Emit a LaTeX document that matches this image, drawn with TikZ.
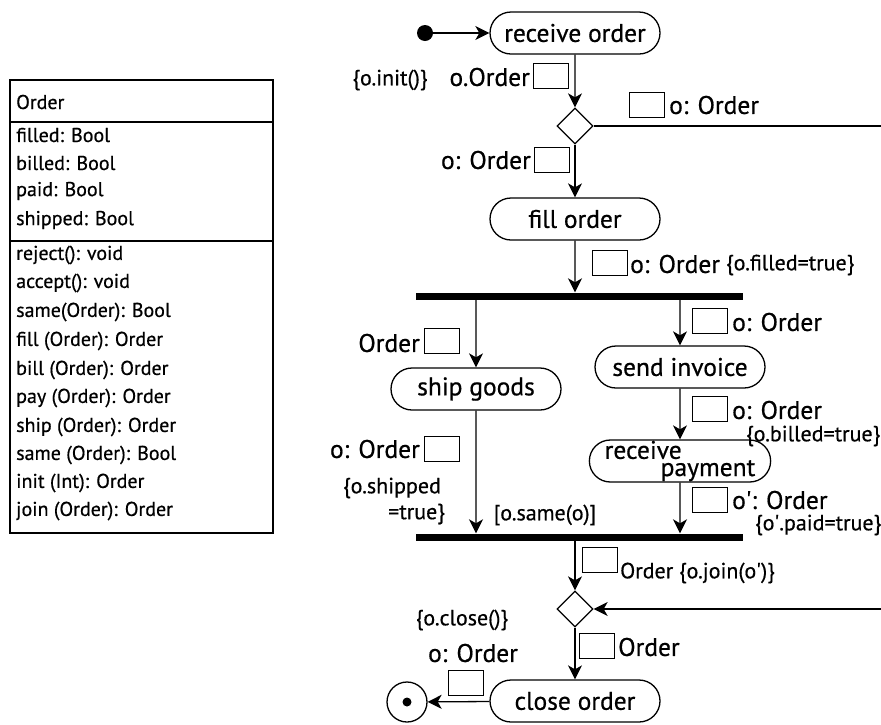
\documentclass[tikz,border=0pt]{standalone}
\usepackage{fontspec}
\setmainfont{PT Sans}[FakeBold=0.6]
\usetikzlibrary{shapes.misc,shapes.geometric,arrows.meta}
\tikzset{activity/.style={rounded rectangle, draw, line width=1.3pt, minimum width=170pt, minimum height=42pt, inner sep=0pt, font=\fontsize{25.5}{28}\selectfont}}
\tikzset{objbox/.style={rectangle, draw, line width=1.2pt, minimum width=35pt, minimum height=25pt, inner sep=0pt}}
\tikzset{decision/.style={diamond, draw, line width=1.3pt, minimum width=36pt, minimum height=36pt, inner sep=0pt}}
\tikzset{forkbar/.style={rectangle, fill=black, minimum width=327pt, minimum height=7pt, inner sep=0pt}}
\tikzset{lbl/.style={inner sep=0pt, font=\fontsize{25.5}{28}\selectfont}}
\tikzset{note/.style={inner sep=0pt, font=\fontsize{22}{24}\selectfont}}
\tikzset{member/.style={anchor=west, inner sep=0pt, font=\fontsize{20}{24}\selectfont}}
\tikzset{arrow/.style={-{Stealth[length=14pt, width=14pt, inset=4pt]}, line width=1.3pt}}
\tikzset{flow/.style={line width=1.3pt}}

\begin{document}
\begin{tikzpicture}[x=1pt, y=-1pt]
  \useasboundingbox (0,0) rectangle (881,724);

  % class Order
  \draw[line width=1.6pt] (10,80) rectangle (273,533);
  \draw[line width=1.6pt] (10,122) -- (273,122);
  \draw[line width=1.6pt] (10,241) -- (273,241);
  \node[member] (cname) at (16,102) {Order};
  \foreach \y/\m in {135/filled: Bool, 163/billed: Bool, 191/paid: Bool, 220/shipped: Bool,
      255/reject(): void, 283/accept(): void, 312/same(Order): Bool, 341/fill (Order): Order,
      370/bill (Order): Order, 398/pay (Order): Order, 427/ship (Order): Order,
      455/same (Order): Bool, 483/init (Int): Order, 511/join (Order): Order}
    \node[member] (m\y) at (16,\y) {\m};

  % activities
  \node[circle, fill=black, minimum size=16pt, inner sep=0pt] (start) at (425,33) {};
  \node[activity] (recv) at (575,33) {receive order};
  \node[decision] (d1) at (575,126) {};
  \node[activity] (fill) at (575,219) {fill order};
  \node[forkbar] (fork) at (579,296) {};
  \node[activity] (ship) at (476,389) {ship goods};
  \node[activity] (invoice) at (680,367) {send invoice};
  \node[activity, align=left, font=\fontsize{25.5}{16}\selectfont] (payment) at (680,461) {receive\\\hspace*{56pt}payment};
  \node[forkbar] (join) at (579,537) {};
  \node[decision] (d2) at (575,609) {};
  \node[activity] (close) at (575,701) {close order};
  \node[circle, draw, line width=1.3pt, minimum size=40pt, inner sep=0pt] (final) at (407,702) {};
  \fill (final) circle (4.5pt);
  \coordinate (out1) at (881,126);
  \coordinate (in2) at (881,609);

  \draw[arrow] (start) -- (recv);
  \draw[arrow] (recv) -- (d1);
  \draw[flow] (d1) -- (out1);
  \draw[arrow] (d1) -- (fill);
  \draw[arrow] (fill) -- (fill |- fork.north);
  \draw[arrow] (fork.south -| ship) -- (ship);
  \draw[arrow] (fork.south -| invoice) -- (invoice);
  \draw[arrow] (invoice) -- (payment);
  \draw[arrow] (ship) -- (ship |- join.north);
  \draw[arrow] (payment) -- (payment |- join.north);
  \draw[arrow] (join.south -| d2) -- (d2);
  \draw[arrow] (in2) -- (d2);
  \draw[arrow] (d2) -- (close);
  \draw[arrow] (close) -- (final);

  % object flows
  \node[objbox] (b1) at (551,76) {};
  \node[lbl, anchor=east] (t1) at (530,77) {o.Order};
  \node[note] (c1) at (390,80) {\{o.init()\}};
  \node[objbox] (b2) at (647,105) {};
  \node[lbl, anchor=west] (t2) at (669,105) {o: Order};
  \node[objbox] (b3) at (552,160) {};
  \node[lbl, anchor=east] (t3) at (531,160) {o: Order};
  \node[objbox] (b4) at (610,263) {};
  \node[lbl, anchor=west] (t4) at (630,264) {o: Order};
  \node[note, anchor=west] (c4) at (726,265) {\{o.filled=true\}};
  \node[objbox] (b5) at (442,341) {};
  \node[lbl, anchor=east] (t5) at (420,343) {Order};
  \node[objbox] (b6) at (710,321) {};
  \node[lbl, anchor=west] (t6) at (732,322) {o: Order};
  \node[objbox] (b7) at (710,409) {};
  \node[lbl, anchor=west] (t7) at (732,410) {o: Order};
  \node[note, anchor=west] (c7) at (746,436) {\{o.billed=true\}};
  \node[objbox] (b8) at (710,500) {};
  \node[lbl, anchor=west] (t8) at (732,500) {o\textquotesingle: Order};
  \node[note, anchor=west] (c8) at (755,525) {\{o\textquotesingle.paid=true\}};
  \node[objbox] (b9) at (442,449) {};
  \node[lbl, anchor=east] (t9) at (420,449) {o: Order};
  \node[note, anchor=west] (c9) at (343,488) {\{o.shipped};
  \node[note, anchor=west] (c10) at (388,514) {=true\}};
  \node[note] (c11) at (545,515) {[o.same(o)]};
  \node[objbox] (b10) at (600,560) {};
  \node[note, anchor=west] (c12) at (620,573) {Order \{o.join(o\textquotesingle)\}};
  \node[objbox] (b11) at (597,646) {};
  \node[lbl, anchor=west] (t11) at (618,647) {Order};
  \node[objbox] (b12) at (466,683) {};
  \node[lbl] (t12) at (473,653) {o: Order};
  \node[note] (c13) at (462,620) {\{o.close()\}};
\end{tikzpicture}
\end{document}
